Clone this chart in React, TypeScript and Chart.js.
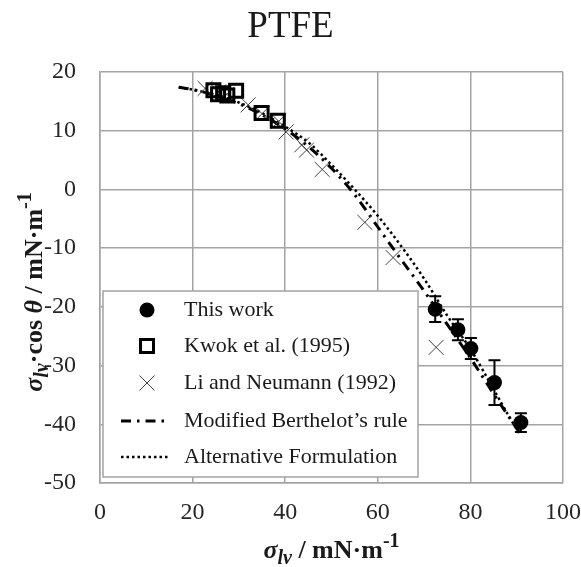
import React, { useEffect, useRef } from 'react';
import { Chart, registerables } from 'chart.js';

Chart.register(...registerables);

// ---- data ----
const xTicks = [0, 20, 40, 60, 80, 100];
const yTicks = [-50, -40, -30, -20, -10, 0, 10, 20];

const thisWorkX = [72.4, 77.3, 80.1, 85.2, 90.9];
const thisWorkY = [-20.4, -23.9, -27.1, -32.9, -39.7];
const thisWorkErr = [2.2, 1.8, 1.8, 3.8, 1.6];

const kwokX = [24.5, 25.5, 26.6, 27.5, 29.4, 34.9, 38.4];
const kwokY = [16.9, 16.2, 16.4, 16.0, 16.8, 13.0, 11.7];

const liX = [22.7, 25.6, 27.4, 32.0, 35.0, 38.6, 40.2, 43.6, 44.6, 48.0, 57.2, 63.3, 72.6];
const liY = [17.2, 16.6, 16.2, 14.4, 12.9, 11.6, 9.8, 7.6, 6.7, 3.4, -5.6, -11.6, -26.9];

const berthelotX = [17, 20, 25, 30, 35, 40, 45, 50, 55, 60, 65, 70, 75, 80, 85, 90.5];
const berthelotY = [17.4, 17.0, 16.0, 14.6, 12.7, 10.3, 7.3, 3.6, -0.9, -6.4, -11.9, -17.3, -23.0, -28.7, -34.8, -41.3];

const altX = [17, 20, 25, 30, 35, 40, 45, 50, 55, 60, 65, 70, 75, 80, 85, 88, 90.5];
const altY = [17.4, 17.0, 16.1, 14.8, 13.0, 10.7, 8.0, 4.2, 0.0, -4.5, -9.6, -15.2, -21.5, -27.2, -34.0, -38.2, -41.5];

const seriesNames = [
  'This work',
  'Kwok et al. (1995)',
  'Li and Neumann (1992)',
  'Modified Berthelot\u2019s rule',
  'Alternative Formulation',
];

const titleText = 'PTFE';

const SERIF = "'Liberation Serif', 'Times New Roman', serif";
const GRID = '#a3a3a3';

const toPts = (xs: number[], ys: number[]) => xs.map((x, i) => ({ x, y: ys[i] }));

type Seg = { t: string; font: string; dy?: number };

function drawRich(ctx: CanvasRenderingContext2D, segs: Seg[], cx: number, y: number) {
  let total = 0;
  const widths = segs.map((s) => {
    ctx.font = s.font;
    const w = ctx.measureText(s.t).width;
    total += w;
    return w;
  });
  let cur = cx - total / 2;
  ctx.textAlign = 'left';
  ctx.textBaseline = 'alphabetic';
  segs.forEach((s, i) => {
    ctx.font = s.font;
    ctx.fillText(s.t, cur, y + (s.dy || 0));
    cur += widths[i];
  });
}

const bigB = `bold 26px ${SERIF}`;
const bigBI = `bold italic 26px ${SERIF}`;
const smB = `bold 20px ${SERIF}`;
const smBI = `bold italic 20px ${SERIF}`;

const errorBarsPlugin = {
  id: 'errorBars',
  afterDatasetsDraw(chart: any) {
    const { ctx } = chart;
    const xs = chart.scales.x;
    const ys = chart.scales.y;
    ctx.save();
    ctx.strokeStyle = '#000';
    ctx.lineWidth = 2;
    thisWorkX.forEach((v, i) => {
      const px = xs.getPixelForValue(v);
      const top = ys.getPixelForValue(thisWorkY[i] + thisWorkErr[i]);
      const bot = ys.getPixelForValue(thisWorkY[i] - thisWorkErr[i]);
      ctx.beginPath();
      ctx.moveTo(px, top);
      ctx.lineTo(px, bot);
      ctx.moveTo(px - 6, top);
      ctx.lineTo(px + 6, top);
      ctx.moveTo(px - 6, bot);
      ctx.lineTo(px + 6, bot);
      ctx.stroke();
    });
    ctx.restore();
  },
};

const textPlugin = {
  id: 'richTitles',
  afterDraw(chart: any) {
    const { ctx, chartArea } = chart;
    ctx.save();
    ctx.fillStyle = '#1a1a1a';
    // main title
    ctx.font = `37px ${SERIF}`;
    ctx.textAlign = 'center';
    ctx.textBaseline = 'alphabetic';
    ctx.fillText(titleText, 290.5, 37);
    // x-axis title
    const cx = (chartArea.left + chartArea.right) / 2;
    drawRich(
      ctx,
      [
        { t: '\u03c3', font: bigBI },
        { t: 'lv', font: smBI, dy: 6 },
        { t: ' / mN\u00b7m', font: bigB },
        { t: '-1', font: smB, dy: -11 },
      ],
      cx,
      558
    );
    // y-axis title
    ctx.translate(42, 292);
    ctx.rotate(-Math.PI / 2);
    drawRich(
      ctx,
      [
        { t: '\u03c3', font: bigBI },
        { t: 'lv', font: smBI, dy: 6 },
        { t: '\u00b7cos ', font: bigB },
        { t: '\u03b8', font: bigBI },
        { t: ' / mN\u00b7m', font: bigB },
        { t: '-1', font: smB, dy: -11 },
      ],
      0,
      0
    );
    ctx.restore();
  },
};

const legendPlugin = {
  id: 'boxLegend',
  afterDraw(chart: any) {
    const { ctx } = chart;
    const left = 103;
    const top = 291;
    const w = 315;
    const h = 186;
    ctx.save();
    ctx.fillStyle = '#fff';
    ctx.fillRect(left, top, w, h);
    ctx.strokeStyle = GRID;
    ctx.lineWidth = 1.5;
    ctx.strokeRect(left, top, w, h);
    const symX = 147;
    const textX = 184;
    const rows = [310, 346, 383, 421, 457];
    ctx.font = `22px ${SERIF}`;
    ctx.textAlign = 'left';
    ctx.textBaseline = 'middle';
    rows.forEach((ry, i) => {
      ctx.fillStyle = '#1a1a1a';
      ctx.fillText(chart.data.datasets[i].label, textX, ry);
      ctx.beginPath();
      ctx.setLineDash([]);
      if (i === 0) {
        ctx.fillStyle = '#000';
        ctx.arc(symX, ry, 7.5, 0, Math.PI * 2);
        ctx.fill();
      } else if (i === 1) {
        ctx.strokeStyle = '#000';
        ctx.lineWidth = 3;
        ctx.strokeRect(symX - 6.5, ry - 6.5, 13, 13);
      } else if (i === 2) {
        ctx.strokeStyle = '#404040';
        ctx.lineWidth = 1;
        ctx.moveTo(symX - 7.5, ry - 7.5);
        ctx.lineTo(symX + 7.5, ry + 7.5);
        ctx.moveTo(symX + 7.5, ry - 7.5);
        ctx.lineTo(symX - 7.5, ry + 7.5);
        ctx.stroke();
      } else {
        const ds = chart.data.datasets[i];
        ctx.strokeStyle = '#000';
        ctx.lineWidth = ds.borderWidth;
        ctx.setLineDash(ds.borderDash);
        ctx.moveTo(121, ry);
        ctx.lineTo(170, ry);
        ctx.stroke();
      }
    });
    ctx.restore();
  },
};

export default function App() {
  const ref = useRef<HTMLCanvasElement>(null);

  useEffect(() => {
    const canvas = ref.current;
    if (!canvas) return;
    const chart = new Chart(canvas, {
      type: 'scatter',
      data: {
        datasets: [
          {
            label: seriesNames[0],
            data: toPts(thisWorkX, thisWorkY),
            pointStyle: 'circle',
            pointRadius: 7.5,
            backgroundColor: '#000',
            borderColor: '#000',
            borderWidth: 0,
          },
          {
            label: seriesNames[1],
            data: toPts(kwokX, kwokY),
            pointStyle: 'rect',
            pointRadius: 9.2,
            backgroundColor: 'rgba(0,0,0,0)',
            borderColor: '#000',
            borderWidth: 3,
          },
          {
            label: seriesNames[2],
            data: toPts(liX, liY),
            pointStyle: 'crossRot',
            pointRadius: 10.6,
            backgroundColor: '#404040',
            borderColor: '#404040',
            borderWidth: 1,
          },
          {
            label: seriesNames[3],
            data: toPts(berthelotX, berthelotY),
            showLine: true,
            pointRadius: 0,
            borderColor: '#000',
            borderWidth: 3,
            borderDash: [10, 6, 2.5, 6],
            cubicInterpolationMode: 'monotone',
            fill: false,
          },
          {
            label: seriesNames[4],
            data: toPts(altX, altY),
            showLine: true,
            pointRadius: 0,
            borderColor: '#000',
            borderWidth: 2.5,
            borderDash: [2.5, 3],
            cubicInterpolationMode: 'monotone',
            fill: false,
          },
        ],
      } as any,
      options: {
        responsive: false,
        animation: false,
        devicePixelRatio: 1,
        layout: { padding: { left: 0, right: 18, top: 72, bottom: 0 } },
        plugins: {
          legend: { display: false },
          tooltip: { enabled: false },
          title: { display: false },
        },
        scales: {
          x: {
            type: 'linear',
            min: 0,
            max: 100,
            afterBuildTicks: (s: any) => {
              s.ticks = xTicks.map((v) => ({ value: v }));
            },
            afterFit: (s: any) => {
              s.height = 84;
              s.paddingLeft = 0;
              s.paddingRight = 0;
            },
            ticks: {
              padding: 15,
              color: '#262626',
              font: { family: SERIF, size: 24 },
            },
            grid: { color: GRID, lineWidth: 1.5, drawTicks: false },
            border: { color: GRID, width: 1.5 },
          },
          y: {
            type: 'linear',
            min: -50,
            max: 20,
            afterBuildTicks: (s: any) => {
              s.ticks = yTicks.map((v) => ({ value: v }));
            },
            afterFit: (s: any) => {
              s.width = 100;
              s.paddingTop = 0;
              s.paddingBottom = 0;
            },
            ticks: {
              padding: 24,
              color: '#262626',
              font: { family: SERIF, size: 24 },
            },
            grid: { color: GRID, lineWidth: 1.5, drawTicks: false },
            border: { color: GRID, width: 1.5 },
          },
        },
      } as any,
      plugins: [errorBarsPlugin, legendPlugin, textPlugin],
    });
    return () => chart.destroy();
  }, []);

  return (
    <div style={{ position: 'fixed', left: 0, top: 0, width: 581, height: 567, background: '#fff' }}>
      <canvas ref={ref} width={581} height={567} style={{ display: 'block', width: 581, height: 567 }} />
    </div>
  );
}
